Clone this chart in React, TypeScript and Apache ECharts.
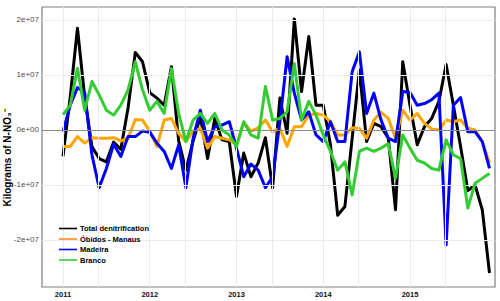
import React, { useEffect, useRef } from "react";
import * as echarts from "echarts";

// x = month index counted from January 2011 (0 = Jan 2011 ... 59 = Dec 2015)
const monthIndex: number[] = [
  0, 1, 2, 3, 4, 5, 6, 7, 8, 9, 10, 11,
  12, 13, 14, 15, 16, 17, 18, 19, 20, 21, 22, 23,
  24, 25, 26, 27, 28, 29, 30, 31, 32, 33, 34, 35,
  36, 37, 38, 39, 40, 41, 42, 43, 44, 45, 46, 47,
  48, 49, 50, 51, 52, 53, 54, 55, 56, 57, 58, 59,
];

// values in units of 1e7 kg
const totalDenitrification: number[] = [
  -0.48, 0.6, 1.85, 0.6, -0.3, -0.52, -0.58, -0.22, -0.35, 0.4, 1.41, 1.24,
  0.68, 0.58, 0.45, 1.15, -0.2, -0.73, -0.2, 0.24, -0.52, 0.21, -0.18, -0.21,
  -1.21, -0.42, -0.85, -0.6, -0.14, -1.05, 0.58, -0.06, 2.02, 0.7, 1.7, 0.45,
  0.45, -0.27, -1.55, -1.39, -0.15, 1.09, -0.21, 0.12, 0.06, -0.15, -1.45, 1.24,
  0.45, -0.27, 0.06, 0.21, 0.52, 1.19, 0.45, -0.3, -1.1, -1.0, -1.45, -2.6,
];
const obidosManaus: number[] = [
  -0.3, -0.3, -0.12, -0.24, -0.14, -0.15, -0.15, -0.14, -0.2, -0.15, 0.19, 0.18,
  -0.02, -0.3, 0.18, 0.21, -0.06, -0.21, -0.02, 0.03, -0.33, -0.12, -0.15, -0.18,
  -0.27, 0.14, -0.02, 0.04, 0.18, -0.03, 0.03, -0.3, 0.06, 0.06, 0.27, 0.3,
  0.27, 0.15, -0.09, -0.09, 0.04, 0.03, -0.15, 0.18, 0.32, 0.21, -0.15, 0.36,
  0.18, 0.3, 0.12, 0.02, 0.0, 0.18, 0.15, 0.18, 0.03, 0.0, -0.21, -0.6,
];
const madeira: number[] = [
  -0.03, 0.45, 0.77, 0.68, -0.45, -1.05, -0.7, -0.26, -0.48, -0.12, -0.12, -0.02,
  -0.04, -0.24, -0.39, -0.7, -0.27, -1.05, -0.15, 0.36, -0.21, 0.06, 0.09, 0.15,
  -0.33, -0.85, -0.62, -0.73, -1.05, -0.85, 0.15, 1.33, 0.67, 0.18, 0.33, -0.09,
  -0.21, 0.15, -0.21, -0.21, 1.06, 1.42, 0.3, 0.67, 0.18, -0.15, -0.21, 0.7,
  0.68, 0.45, 0.48, 0.55, 0.67, -2.09, 0.45, 0.59, -0.03, -0.03, -0.21, -0.7,
];
const branco: number[] = [
  0.28, 0.45, 1.12, 0.36, 0.88, 0.64, 0.36, 0.27, 0.45, 0.73, 1.24, 0.73,
  0.36, 0.52, 0.3, 1.12, 0.3, -0.21, 0.18, 0.3, 0.12, 0.3, 0.0, -0.09,
  -0.3, 0.15, -0.09, -0.15, 0.79, 0.18, 0.21, 0.33, 1.21, 0.18, 0.52, 0.27,
  -0.09, -0.39, -0.73, -0.58, -1.18, -0.39, -0.33, -0.39, -0.33, -0.25, -0.88, -0.09,
  -0.33, -0.55, -0.6, -0.7, -0.73, -0.18, -0.45, -0.52, -1.42, -0.97, -0.88, -0.79,
];
const UNIT = 1e7;

const seriesNames: string[] = ["Total denitrification", "Óbidos - Manaus", "Madeira", "Branco"];
const seriesColors: string[] = ["#000000", "#FFA500", "#0000FF", "#33CC33"];
const legendColors: string[] = ["#000000", "#FF8A1F", "#0000FF", "#33CC33"];

const yearTicks: number[] = [0, 12, 24, 36, 48];
const yearLabels: string[] = ["2011", "2012", "2013", "2014", "2015"];
const minorXGrid: number[] = [4.9, 16.9, 28.9, 40.9, 52.9];
const yTicks: number[] = [-2e7, -1e7, 0, 1e7, 2e7];
const yTickLabels: string[] = ["-2e+07", "-1e+07", "0e+00", "1e+07", "2e+07"];
const yTitle = "Kilograms of N-NO\u2083\u207B";

const FONT = "'Liberation Sans', Arial, sans-serif";

export default function App() {
  const ref = useRef<HTMLDivElement>(null);
  useEffect(() => {
    if (!ref.current) return;
    const chart = echarts.init(ref.current, null, { renderer: "svg" });
    const allSeries = [totalDenitrification, obidosManaus, madeira, branco];
    const gridData: any[] = [];
    yearTicks.concat(minorXGrid).forEach((v) => gridData.push({ xAxis: v }));
    yTicks.filter((v) => v !== 0).forEach((v) => gridData.push({ yAxis: v }));
    gridData.push({ yAxis: 0, lineStyle: { color: "#8c8c8c", width: 1.2, type: "solid" } });

    const legendItems: any[] = [];
    seriesNames.forEach((n, i) => {
      const y = 228.5 + i * 10.5;
      legendItems.push({
        type: "line",
        shape: { x1: 59, y1: y, x2: 77, y2: y },
        style: { stroke: legendColors[i], lineWidth: 1.6 },
        z: 100,
      });
      legendItems.push({
        type: "text",
        x: 80,
        y: y,
        style: {
          text: n,
          fontSize: 7.5,
          fontWeight: "bold",
          fontFamily: FONT,
          fill: "#000",
          align: "left",
          verticalAlign: "middle",
        },
        z: 100,
      });
    });

    const option: any = {
      animation: false,
      backgroundColor: "#ffffff",
      grid: {
        left: 42,
        top: 7,
        width: 453,
        height: 280,
        show: true,
        borderColor: "#7f7f7f",
        borderWidth: 1.2,
        backgroundColor: "#ffffff",
      },
      graphic: [
        ...legendItems,
        {
          type: "text",
          x: 7,
          y: 158,
          rotation: Math.PI / 2,
          style: {
            text: yTitle,
            fontSize: 10,
            fontWeight: "bold",
            fontFamily: FONT,
            fill: "#000",
            align: "center",
            verticalAlign: "middle",
          },
        },
      ],
      xAxis: {
        type: "value",
        min: -2.905,
        max: 59.76,
        axisLine: { show: false },
        splitLine: { show: false },
        axisTick: { show: false },
        axisLabel: {
          customValues: yearTicks,
          formatter: (v: number) => yearLabels[yearTicks.indexOf(v)] ?? "",
          fontSize: 7.5,
          fontWeight: "bold",
          color: "#111",
          fontFamily: FONT,
          margin: 3,
        },
      },
      yAxis: {
        type: "value",
        min: -2.855e7,
        max: 2.236e7,
        axisLine: { show: false },
        splitLine: { show: false },
        axisTick: { show: true, customValues: yTicks, length: 2.5, lineStyle: { color: "#7f7f7f" } },
        axisLabel: {
          customValues: yTicks,
          formatter: (v: number) => yTickLabels[yTicks.indexOf(v)] ?? "",
          fontSize: 8,
          color: "#4d4d4d",
          fontFamily: FONT,
          margin: 3,
        },
      },
      series: [
        {
          type: "line",
          name: "_grid",
          data: [],
          silent: true,
          z: 1,
          markLine: {
            silent: true,
            symbol: "none",
            label: { show: false },
            animation: false,
            lineStyle: { color: "#ebebeb", width: 1, type: "solid" },
            data: gridData,
          },
        },
        ...allSeries.map((vals, i) => ({
          type: "line",
          name: seriesNames[i],
          data: vals.map((v, j) => [monthIndex[j], v * UNIT]),
          showSymbol: false,
          symbol: "none",
          z: 2 + i,
          lineStyle: { color: seriesColors[i], width: 3, join: "round" },
          itemStyle: { color: seriesColors[i] },
        })),
      ],
    };
    chart.setOption(option);
    return () => chart.dispose();
  }, []);
  return (
    <div
      ref={ref}
      style={{ position: "fixed", left: 0, top: 0, width: 500, height: 301, background: "#fff" }}
    />
  );
}
